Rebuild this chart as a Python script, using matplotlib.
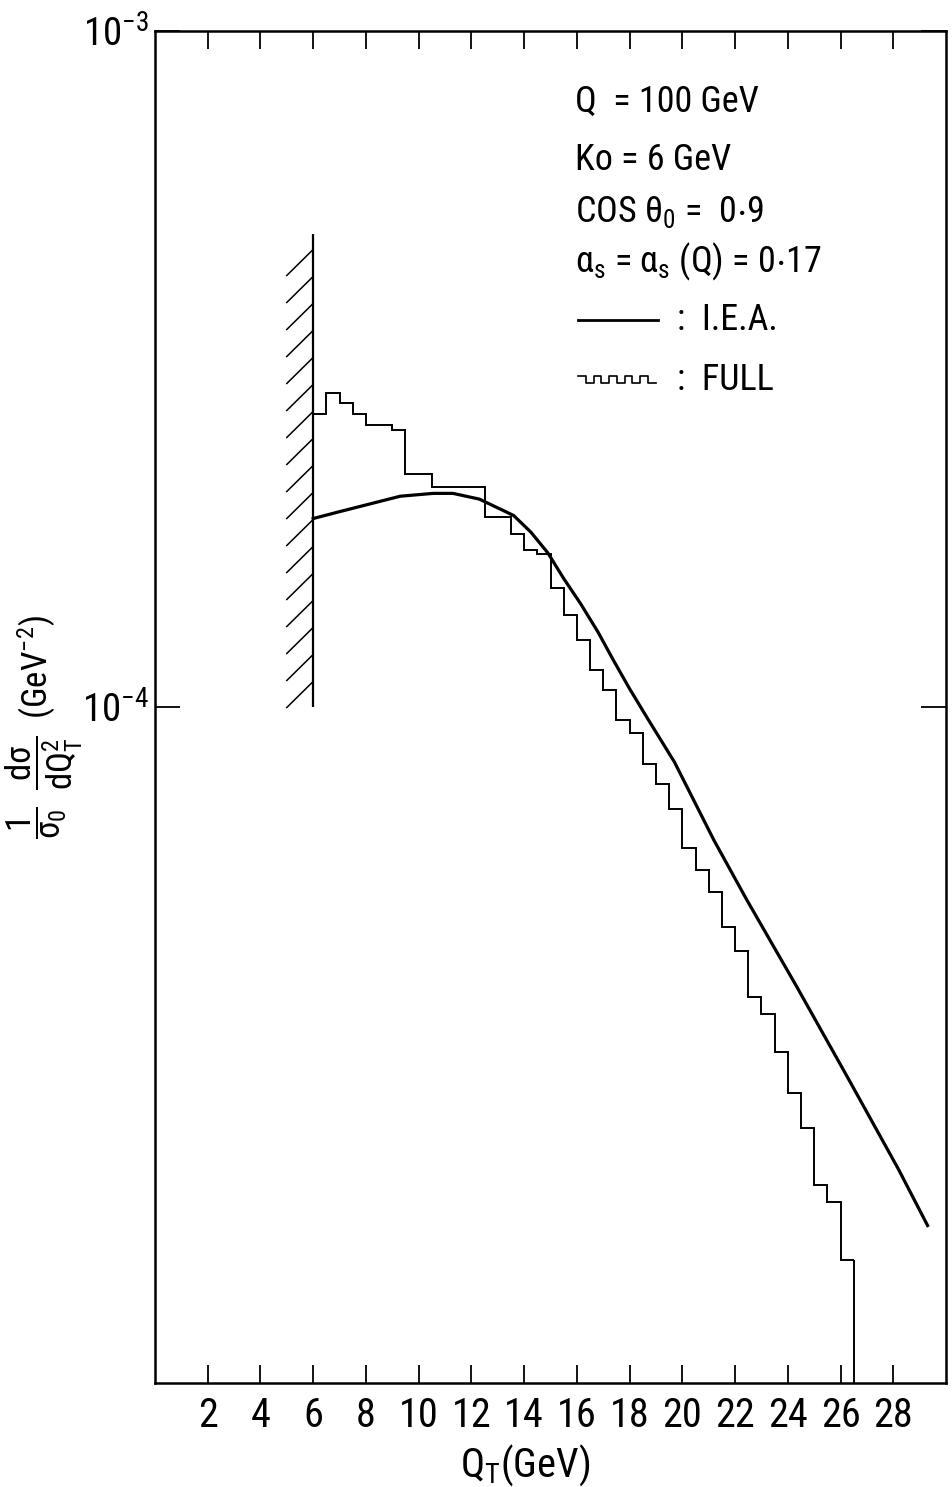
import numpy as np
import matplotlib.pyplot as plt
from matplotlib.ticker import NullLocator

plt.rcParams['font.family'] = ['Roboto Condensed', 'Roboto', 'DejaVu Sans']
plt.rcParams['mathtext.fontset'] = 'custom'
plt.rcParams['mathtext.rm'] = 'Roboto Condensed'
plt.rcParams['mathtext.it'] = 'Roboto Condensed'
plt.rcParams['mathtext.bf'] = 'Roboto Condensed:bold'
plt.rcParams['mathtext.default'] = 'regular'

# I.E.A. curve
qt_iea = [6.0, 7.0, 8.0, 9.3, 10.55, 11.3, 12.3, 13.6, 14.25, 14.9, 15.5, 16.15,
          16.8, 17.4, 18.0, 18.65, 19.7, 21.2, 22.45, 24.35, 26.25, 28.2, 29.3]
iea = np.array([1.90, 1.945, 1.99, 2.05, 2.07, 2.07, 2.03, 1.92, 1.815, 1.69,
                1.549, 1.42, 1.291, 1.17, 1.064, 0.966, 0.829, 0.635, 0.518,
                0.385, 0.284, 0.207, 0.171]) * 1e-4

# FULL calculation, 0.5 GeV bins starting at K0
edges = np.arange(6.0, 26.51, 0.5)
full = np.array([2.716, 2.914, 2.817, 2.716, 2.611, 2.611, 2.567, 2.21, 2.21,
                 2.112, 2.112, 2.112, 2.112, 1.910, 1.910, 1.805, 1.709, 1.686,
                 1.500, 1.367, 1.258, 1.133, 1.058, 0.958, 0.915, 0.823, 0.769,
                 0.706, 0.618, 0.573, 0.532, 0.473, 0.435, 0.372, 0.352, 0.309,
                 0.269, 0.238, 0.196, 0.185, 0.152]) * 1e-4

k0 = 6.0
wall_lo, wall_hi = 1e-4, 5e-4

fig = plt.figure(figsize=(9.53, 14.87), dpi=100)
ax = fig.add_axes([0.1626, 0.0699, 0.8301, 0.9093])
ax.set_yscale('log')
ax.set_xlim(0, 30)
ax.set_ylim(1e-5, 1e-3)

ax.plot(qt_iea, iea, 'k-', lw=2.3, solid_joinstyle='round')
ax.stairs(full, edges, baseline=None, color='k', lw=1.4)
ax.vlines(edges[-1], 1e-5, full[-1], color='k', lw=1.4)

# K0 cut-off wall with hatching
ax.vlines(k0, wall_lo, wall_hi, color='k', lw=1.6)
step = 10**(27/676.)
drop = 10**(-26/676.)
ytop = wall_hi / 10**(15/676.)
while ytop * drop >= wall_lo * 0.98:
    ax.plot([k0 - 1, k0], [ytop * drop, ytop], 'k-', lw=1.1)
    ytop /= step

ax.set_xticks(np.arange(2, 29, 2))
ax.tick_params(axis='x', direction='in', top=True, length=13, width=1.3,
               labelsize=29, pad=9)
ax.set_yticks([1e-4, 1e-3])
ax.set_yticklabels([r'$10^{-4}$', r'$10^{-3}$'])
ax.yaxis.set_minor_locator(NullLocator())
ax.tick_params(axis='y', direction='in', right=True, length=18, width=1.3,
               labelsize=28, pad=4)
for s in ax.spines.values():
    s.set_linewidth(1.8)

ax.set_xlabel(r'Q$_{T}$(GeV)', size=29, va='center')
ax.xaxis.set_label_coords(0.468, -0.0607)
ax.set_ylabel(r'$\dfrac{1}{\sigma_0}\;\;\dfrac{d\sigma}{dQ_T^2}\;\;(GeV^{-2})$', size=25, va='center')
ax.yaxis.set_label_coords(-0.14, 0.485)

tx = 0.531
fs = 26
ax.text(tx, 0.9475, 'Q  = 100 GeV', transform=ax.transAxes, size=fs, va='center')
ax.text(tx, 0.9046, 'Ko = 6 GeV', transform=ax.transAxes, size=fs, va='center')
ax.text(tx, 0.8661, r'COS $\theta_0$ =  0$\cdot$9', transform=ax.transAxes, size=fs, va='center')
ax.text(tx, 0.8291, r'$\alpha_s$ = $\alpha_s$ (Q) = 0$\cdot$17', transform=ax.transAxes, size=fs, va='center')
ax.plot([0.535, 0.636], [0.7862, 0.7862], 'k-', lw=2.0, transform=ax.transAxes)
ax.text(0.66, 0.7862, ':  I.E.A.', transform=ax.transAxes, size=fs, va='center')
wx = np.linspace(0.535, 0.633, 11)
wy = np.where(np.arange(10) % 2 == 0, 0.7445, 0.7395)
ax.plot(np.repeat(wx, 2)[1:-1], np.repeat(wy, 2), 'k-', lw=1.2, transform=ax.transAxes)
ax.text(0.66, 0.7419, ':  FULL', transform=ax.transAxes, size=fs, va='center')

plt.savefig('out.png', dpi=100)
